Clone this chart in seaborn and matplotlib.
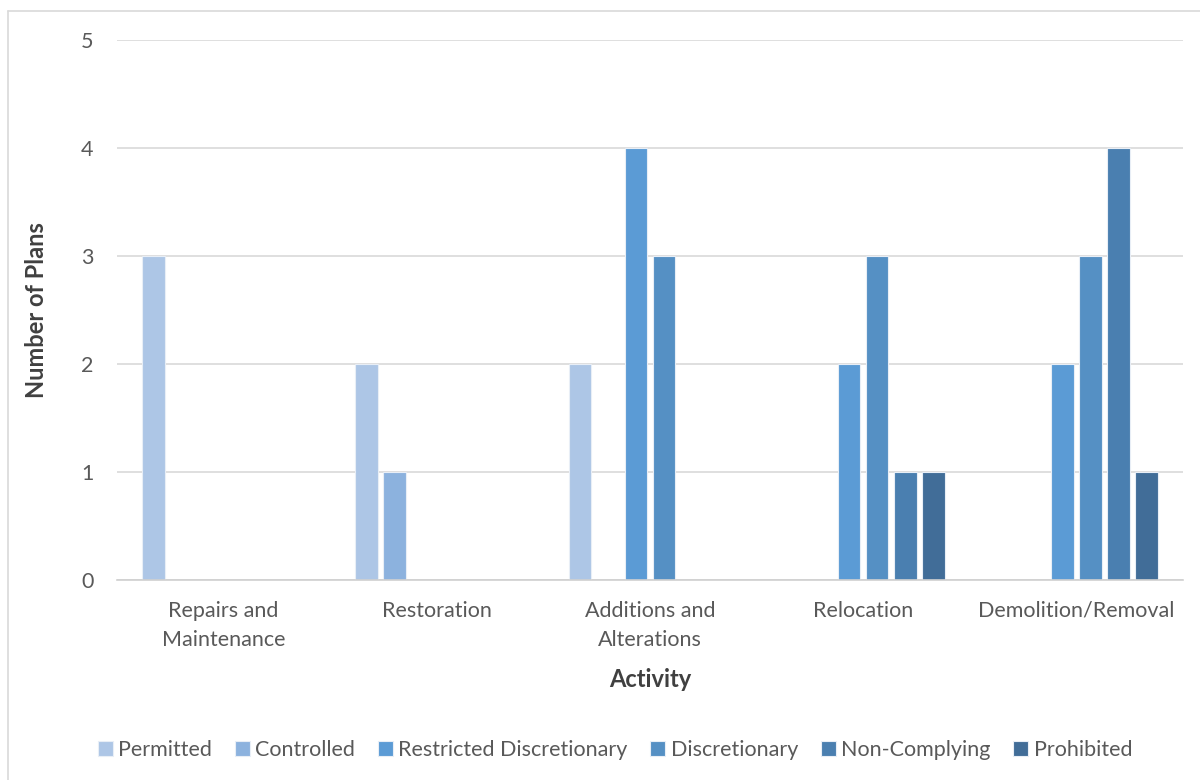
import numpy as np
import matplotlib.pyplot as plt
import matplotlib.lines as mlines
import pandas as pd
import seaborn as sb

# data
activities = ['Repairs and\nMaintenance', 'Restoration', 'Additions and\nAlterations',
              'Relocation', 'Demolition/Removal']
statuses = ['Permitted', 'Controlled', 'Restricted Discretionary', 'Discretionary',
            'Non-Complying', 'Prohibited']
permitted = [3, 2, 2, 0, 0]
controlled = [0, 1, 0, 0, 0]
restricted = [0, 0, 4, 2, 2]
discretionary = [0, 0, 3, 3, 3]
non_complying = [0, 0, 0, 1, 4]
prohibited = [0, 0, 0, 1, 1]

colors = ['#adc6e6', '#8cb2de', '#5b9bd5', '#5590c4', '#4a7fb0', '#416d98']

series = [permitted, controlled, restricted, discretionary, non_complying, prohibited]
rows = []
for s, vals in zip(statuses, series):
    for a, v in zip(activities, vals):
        rows.append({'Activity': a, 'Status': s, 'Plans': v})
df = pd.DataFrame(rows)

sb.set_style('white')
plt.rcParams['font.family'] = ['Lato', 'DejaVu Sans']

fig = plt.figure(figsize=(12, 7.8), dpi=100)
ax = fig.add_axes([117 / 1200, 1 - 580 / 780, 1066 / 1200, 540 / 780])

sb.barplot(data=df, x='Activity', y='Plans', hue='Status', order=activities,
           hue_order=statuses, palette=colors, width=0.79, gap=0.2,
           edgecolor='#e8eef6', linewidth=0.8, saturation=1, ax=ax, legend=True)

ax.set_ylim(0, 5)
ax.set_xlim(-0.5, 4.5)
ax.set_yticks(range(6))
ax.yaxis.grid(True, color='#d9d9d9', linewidth=1.2)
ax.set_axisbelow(True)
for side in ['top', 'right', 'left']:
    ax.spines[side].set_visible(False)
ax.spines['bottom'].set_color('#d0d0d0')
ax.spines['bottom'].set_linewidth(1.2)

ax.tick_params(axis='y', length=0, pad=17, labelsize=15.5, labelcolor='#595959')
ax.tick_params(axis='x', which='major', length=0, pad=15, labelsize=15.5, labelcolor='#595959')
ax.set_xticks(np.arange(-0.5, 5, 1), minor=True)
ax.tick_params(axis='x', which='minor', length=7, width=1.2, color='#d0d0d0')
for lbl in ax.get_xticklabels():
    lbl.set_linespacing(1.6)

ax.set_xlabel('Activity', fontsize=17, fontweight='bold', color='#404040', labelpad=13)
ax.set_ylabel('Number of Plans', fontsize=17, fontweight='bold', color='#404040', labelpad=24)

# legend centred a bit left of the plot area, as in the original
leg_x = (615 - 117) / 1066
ax.legend(loc='center', bbox_to_anchor=(leg_x, -0.315), ncol=6, frameon=False,
          fontsize=15.5, labelcolor='#595959', handlelength=0.7, handleheight=0.7,
          handletextpad=0.25, columnspacing=1.05)

# chart area border
fig.add_artist(mlines.Line2D([8 / 1200, 8 / 1200], [0, 1 - 11 / 780],
                             transform=fig.transFigure, color='#d9d9d9', linewidth=1.2))
fig.add_artist(mlines.Line2D([8 / 1200, 1], [1 - 11 / 780, 1 - 11 / 780],
                             transform=fig.transFigure, color='#d9d9d9', linewidth=1.2))

fig.savefig('out.png', dpi=100)
